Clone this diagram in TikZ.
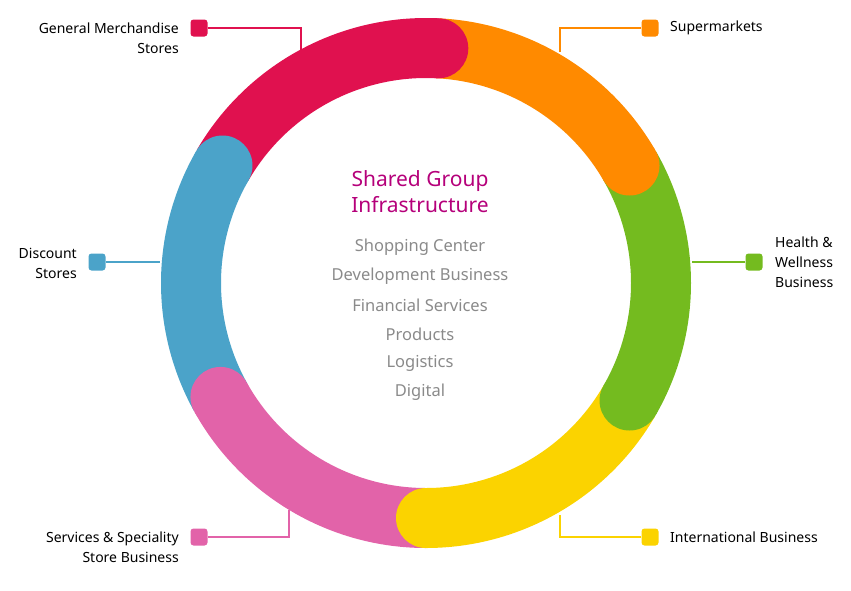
\documentclass[tikz,border=0pt]{standalone}
\usepackage{fontspec}
\setmainfont{Noto Sans}
\definecolor{cred}{HTML}{E0114F}
\definecolor{corange}{HTML}{FF8A00}
\definecolor{cgreen}{HTML}{74BB1F}
\definecolor{cyellow}{HTML}{FBD300}
\definecolor{cpink}{HTML}{E263A9}
\definecolor{cblue}{HTML}{4BA3C9}
\definecolor{cmag}{HTML}{B5007A}
\definecolor{cgray}{HTML}{8A8A8A}
\begin{document}
\begin{tikzpicture}[x=1pt,y=1pt,
  seg/.style={line width=60pt},
  lab/.style={font=\fontsize{14}{20}\selectfont, inner sep=0pt},
  sq/.style={minimum size=17pt, inner sep=0pt, rounded corners=3pt},
  lead/.style={line width=1.3pt},
  item/.style={text=cgray, font=\fontsize{16.5}{20}\selectfont, inner sep=0pt}]
\useasboundingbox (0,0) rectangle (851,-590);
\coordinate (c) at (426,-283);
\def\R{235}
\foreach \col/\a/\b in {cred/150/87, corange/87/30, cgreen/30/-30, cyellow/-30/-90, cpink/-90/-151, cblue/209/150}
  \draw[seg,\col] (c) ++(\a:\R) arc[start angle=\a, end angle=\b, radius=\R];
\foreach \col/\b in {cred/87, corange/30, cgreen/-30, cyellow/-90, cpink/-151, cblue/150}
  \fill[\col] (c) ++(\b:\R) circle[radius=30];
% center text
\node[text=cmag, font=\bfseries\fontsize{21}{26}\selectfont, align=center] (title) at (420,-192) {Shared Group\\Infrastructure};
\node[item] (i1) at (420,-247) {Shopping Center};
\node[item] (i2) at (420,-276) {Development Business};
\node[item] (i3) at (420,-305) {Financial Services};
\node[item] (i4) at (420,-334) {Products};
\node[item] (i5) at (420,-363) {Logistics};
\node[item] (i6) at (420,-392) {Digital};
% legend
\node[sq, fill=cred] (s1) at (199,-28) {};
\node[sq, fill=corange] (s2) at (650,-28) {};
\node[sq, fill=cgreen] (s3) at (754,-262) {};
\node[sq, fill=cyellow] (s4) at (650,-537) {};
\node[sq, fill=cpink] (s5) at (199,-537) {};
\node[sq, fill=cblue] (s6) at (97,-262) {};
\coordinate (e1) at (301,-50); \coordinate (e2) at (560,-52);
\coordinate (e3) at (692,-262); \coordinate (e4) at (560,-515);
\coordinate (e5) at (289,-510); \coordinate (e6) at (160,-262);
\draw[lead,cred] (s1.east) -| (e1);
\draw[lead,corange] (s2.west) -| (e2);
\draw[lead,cgreen] (s3.west) -- (e3);
\draw[lead,cyellow] (s4.west) -| (e4);
\draw[lead,cpink] (s5.east) -| (e5);
\draw[lead,cblue] (s6.east) -- (e6);
\node[lab, anchor=east, align=right] (l1) at (179,-38) {General Merchandise\\Stores};
\node[lab, anchor=west] (l2) at (670,-28) {Supermarkets};
\node[lab, anchor=west, align=left] (l3) at (775,-262) {Health \&\\Wellness\\Business};
\node[lab, anchor=west] (l4) at (670,-537) {International Business};
\node[lab, anchor=east, align=right] (l5) at (179,-547) {Services \& Speciality\\Store Business};
\node[lab, anchor=east, align=right] (l6) at (77,-263) {Discount\\Stores};
\end{tikzpicture}
\end{document}
